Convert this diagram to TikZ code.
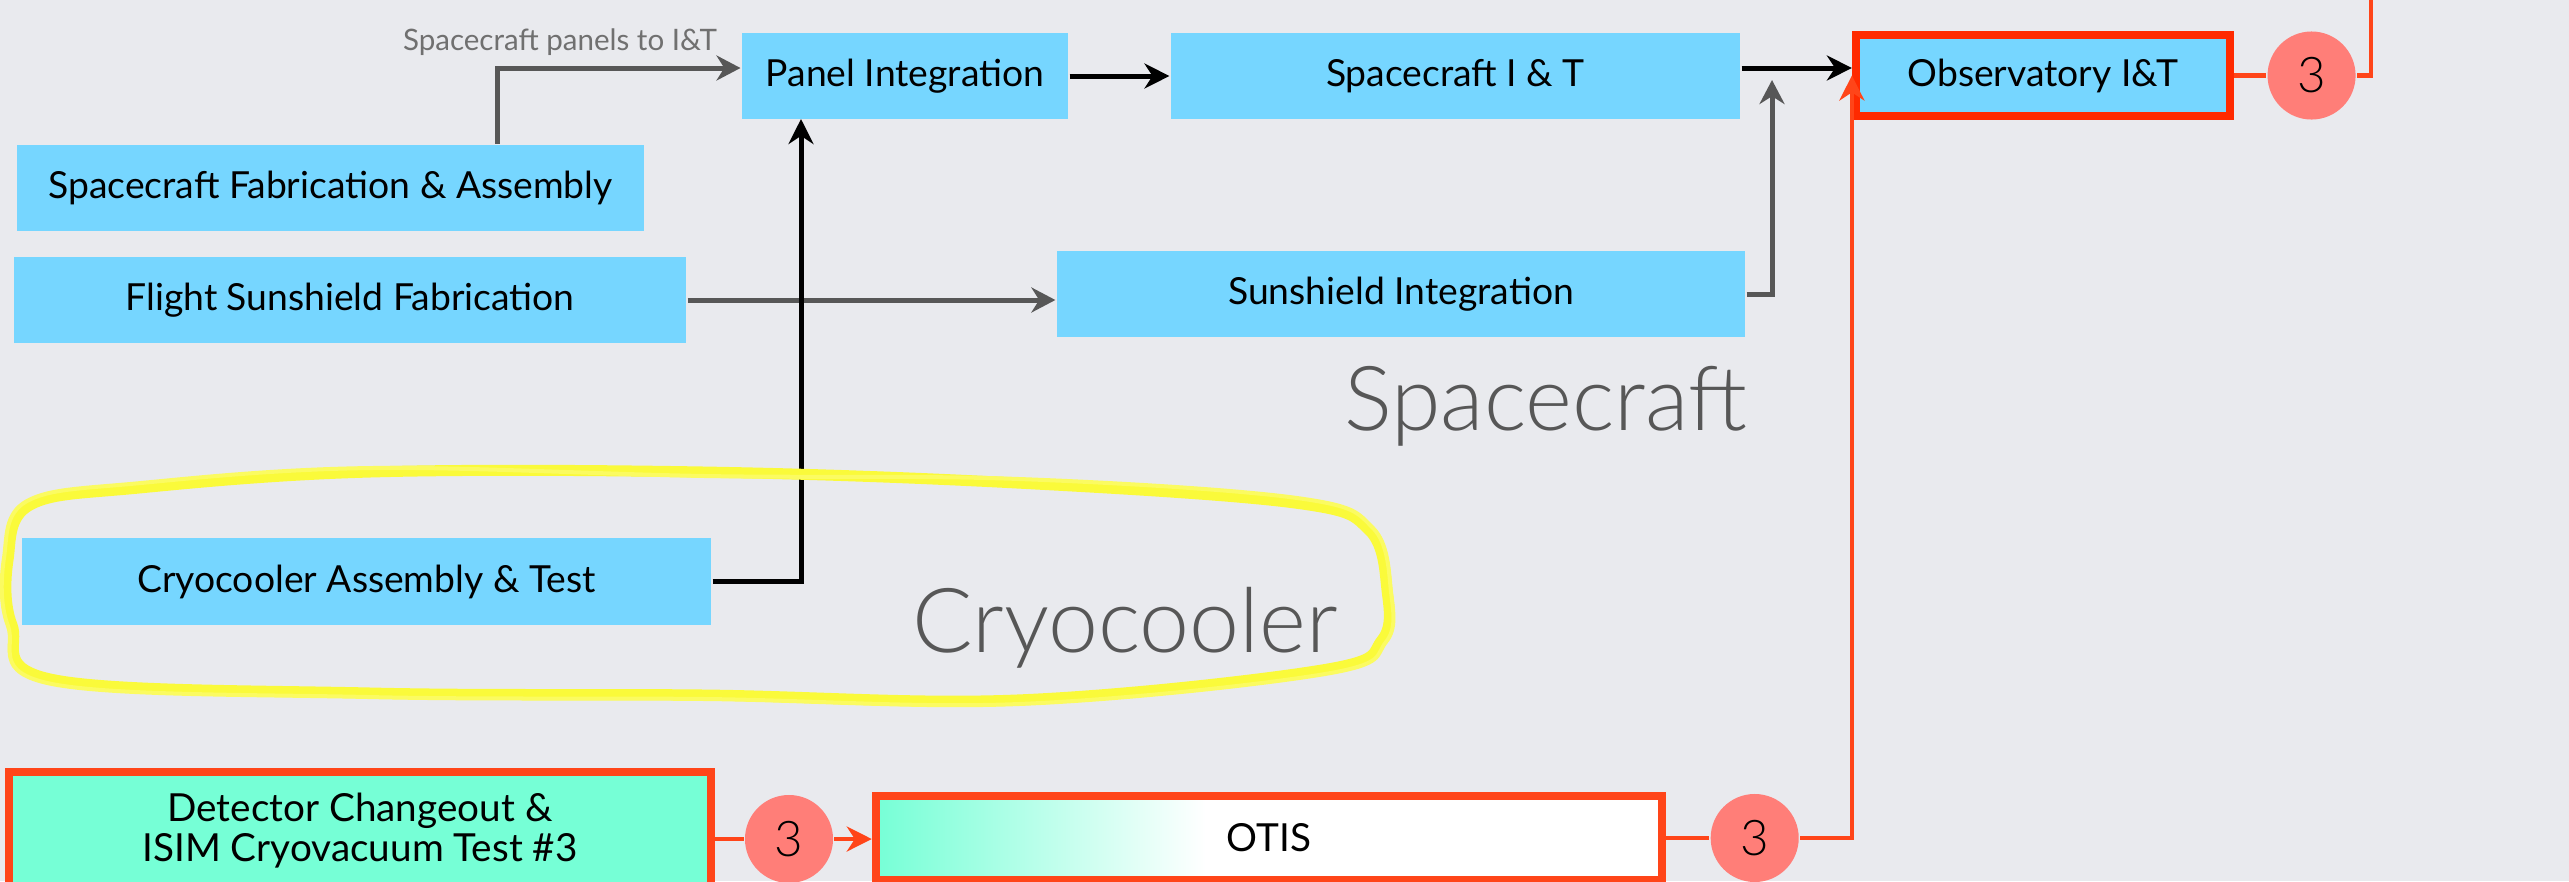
\documentclass[tikz,border=0pt]{standalone}
\usepackage{fontspec}
\setmainfont{Lato}
\newfontfamily\lightfont{Lato}[UprightFont={* Light}]
\usetikzlibrary{arrows.meta,positioning}

\definecolor{skyblue}{HTML}{76D6FF}
\definecolor{aqua}{HTML}{76FFD6}
\definecolor{flag}{HTML}{FF2A00}
\definecolor{ember}{HTML}{FF4519}
\definecolor{salmon}{HTML}{FF7E78}
\definecolor{slate}{HTML}{575757}
\definecolor{paper}{HTML}{E9EAEE}
\definecolor{marker}{HTML}{FAFA3A}
\pgfdeclarehorizontalshading{otisfade}{100bp}{color(0bp)=(aqua); color(25bp)=(aqua); color(46bp)=(white); color(100bp)=(white)}

\begin{document}
\begin{tikzpicture}[x=0.01cm, y=-0.01cm, thick,
    task/.style = {fill=skyblue, draw=none, inner sep=0pt, minimum height=0.86cm, font=\fontsize{10.6}{12}\selectfont},
    redbox/.style = {draw=ember, line width=0.08cm, inner sep=0pt, align=center, font=\fontsize{11}{11.4}\selectfont},
    num/.style = {circle, fill=salmon, inner sep=0pt, minimum size=0.88cm, font=\lightfont\fontsize{14}{14}\selectfont},
    biglbl/.style = {text=slate, inner sep=0pt, anchor=base west, font=\lightfont\fontsize{25.5}{28}\selectfont},
    greyarr/.style = {draw=slate, line width=0.05cm, -{Stealth[length=0.24cm, width=0.25cm]}},
    blackarr/.style = {draw=black, line width=0.05cm, -{Stealth[length=0.25cm, width=0.25cm]}},
    redline/.style = {draw=ember, line width=0.045cm},
    redarr/.style = {redline, -{Stealth[length=0.25cm, width=0.25cm]}}]

    \fill[paper] (0,0) rectangle (2569,881);
    \useasboundingbox (0,0) rectangle (2569,881);

    % spacecraft side
    \node[task, minimum width=3.26cm] (panel) at (905,76) {Panel Integration};
    \node[task, minimum width=5.69cm] (scit) at (1455.5,76) {Spacecraft I \& T};
    \node[task, draw=flag, line width=0.08cm, minimum width=3.74cm, minimum height=0.81cm] (obs) at (2043,75.5) {Observatory I\&T};
    \node[task, minimum width=6.27cm] (scfab) at (330.5,188) {Spacecraft Fabrication \& Assembly};
    \node[task, minimum width=6.72cm] (fsf) at (350,300) {Flight Sunshield Fabrication};
    \node[task, minimum width=6.88cm] (sunint) at (1401,294) {Sunshield Integration};
    \node[task, minimum width=6.89cm] (cryo) at (366.5,581.5) {Cryocooler Assembly \& Test};

    \node[text=slate!85, inner sep=0pt, font=\fontsize{8.4}{10}\selectfont] (panels) at (560,42) {Spacecraft panels to I\&T};
    \node[biglbl] (sclbl) at (1343,430) {Spacecraft};
    \node[biglbl] (cryolbl) at (911,652) {Cryocooler};

    % test flow
    \node[redbox, fill=aqua, minimum width=7.02cm, minimum height=1.18cm] (dcisim) at (360,831) {Detector Changeout \&\\ISIM Cryovacuum Test \#3};
    \node[redbox, shading=otisfade, minimum width=7.86cm, minimum height=0.84cm] (otis) at (1269,838) {OTIS};

    \node[num] (n1) [right=0.32cm of obs] {3};
    \node[num] (n2) [right=0.43cm of otis] {3};
    \node[num] (n3) at (789,839) {3};

    \coordinate (bend) at (497,68);
    \coordinate (join) at (1772,80);
    \coordinate (riser) at (801,119);
    \coordinate (topend) at (2371,0);

    \draw[greyarr] (scfab.north -| bend) |- (bend -| panel.west);
    \draw[greyarr] (fsf.east) -- (fsf.east -| sunint.west);
    \draw[greyarr] (sunint.east) -| (join);
    \draw[blackarr] (cryo.east) -| (riser);
    \draw[blackarr] (panel) -- (scit);
    \draw[blackarr] ([yshift=0.08cm]scit.east) -- ([yshift=0.08cm]scit.east -| obs.west);

    \draw[redline] (dcisim.east |- n3) -- (n3);
    \draw[redarr] (n3) -- (n3 -| otis.west);
    \draw[redline] (otis) -- (n2);
    \draw[redarr] (n2) -| (obs.west);
    \draw[redline] (obs) -- (n1);
    \draw[redline] (n1) -| (topend);

    % hand drawn ring
    \draw[marker, line width=0.11cm, line join=round] plot[smooth cycle, tension=0.6] coordinates {
        (139,488) (370,472) (703,472) (1017,483) (1295,503) (1369,530) (1387,590) (1382,640)
        (1322,670) (1017,700) (703,695) (370,693) (55,680) (12,625) (8,560) (30,505)};
    \draw[marker!80!white, line width=0.04cm, line join=round] plot[smooth cycle, tension=0.6] coordinates {
        (141,483) (372,468) (705,476) (1019,479) (1297,498) (1373,528) (1391,592) (1386,642)
        (1325,674) (1019,704) (705,699) (368,697) (52,684) (8,626) (4,558) (27,501)};
\end{tikzpicture}
\end{document}
